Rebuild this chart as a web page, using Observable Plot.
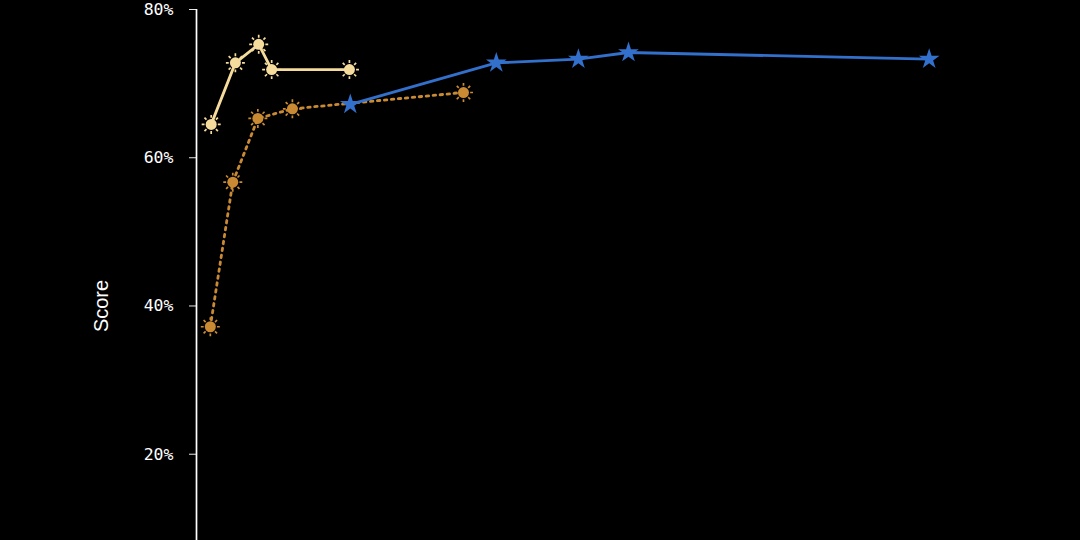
<!DOCTYPE html>
<html>
<head>
<meta charset="utf-8">
<script src="https://cdn.jsdelivr.net/npm/d3@7"></script>
<script src="https://cdn.jsdelivr.net/npm/@observablehq/plot@0.6"></script>
<style>
  html, body { margin: 0; padding: 0; background: #000; }
  #chart { width: 1080px; height: 540px; overflow: hidden; }
</style>
</head>
<body>
<div id="chart"></div>
<script>
// Series A (pale yellow, solid line, sun markers)
const seriesAx = [1.7, 4.5, 7.2, 8.7, 17.7];
const seriesAy = [0.645, 0.728, 0.753, 0.719, 0.719];
// Series B (amber, dotted line, sun markers)
const seriesBx = [1.6, 4.2, 7.1, 11.1, 30.9];
const seriesBy = [0.372, 0.567, 0.653, 0.666, 0.688];
// Series C (blue, solid line, star markers)
const seriesCx = [17.8, 34.7, 44.2, 50.0, 84.8];
const seriesCy = [0.672, 0.728, 0.733, 0.742, 0.733];
const yTicks = [0.2, 0.4, 0.6, 0.8];
const yLabel = "Score";

const toRows = (xs, ys) => xs.map((x, i) => ({x, y: ys[i]}));
const A = toRows(seriesAx, seriesAy);
const B = toRows(seriesBx, seriesBy);
const C = toRows(seriesCx, seriesCy);

const colA = "#f6dc9c", colB = "#c98a33", colC = "#3270cc";

// custom "sun rays" symbol: 8 detached rays around the centre
const rays = {
  draw(ctx, size) {
    const R = Math.sqrt(size / Math.PI);
    for (let i = 0; i < 8; i++) {
      const a = i * Math.PI / 4;
      ctx.moveTo(Math.cos(a) * R * 0.7, Math.sin(a) * R * 0.7);
      ctx.lineTo(Math.cos(a) * R, Math.sin(a) * R);
    }
  }
};

const sunMarks = (data, color) => [
  Plot.dot(data, {x: "x", y: "y", r: 9.5, symbol: rays, stroke: color, strokeWidth: 1.7, fill: "none"}),
  Plot.dot(data, {x: "x", y: "y", r: 5.5, fill: color, stroke: "none"})
];

const chart = Plot.plot({
  width: 1080,
  height: 540,
  marginTop: 9,
  marginBottom: 0,
  marginLeft: 196,
  marginRight: 20,
  style: {background: "#000", color: "#fff", overflow: "visible"},
  x: {domain: [0, 100], axis: null},
  y: {domain: [0.0836, 0.8]},
  marks: [
    Plot.axisY({
      ticks: yTicks,
      tickFormat: d3.format(".0%"),
      tickSize: 7,
      tickPadding: 16,
      fontSize: 16.5,
      fontFamily: "DejaVu Sans Mono",
      stroke: "#fff",
      strokeOpacity: 0.9,
      label: null
    }),
    Plot.text([yLabel], {
      frameAnchor: "left", y: () => 0.4, dx: -95, rotate: -90, fill: "#fff",
      textAnchor: "middle", lineAnchor: "middle",
      fontSize: 20, fontFamily: "Liberation Sans, Arial, sans-serif"
    }),
    Plot.ruleX([0], {stroke: "#fff", strokeWidth: 1.7}),
    Plot.line(B, {x: "x", y: "y", stroke: colB, strokeWidth: 2.8, strokeDasharray: "2.5,4.5"}),
    ...sunMarks(B, colB),
    Plot.line(A, {x: "x", y: "y", stroke: colA, strokeWidth: 2.8}),
    ...sunMarks(A, colA),
    Plot.line(C, {x: "x", y: "y", stroke: colC, strokeWidth: 2.8}),
    Plot.dot(C, {x: "x", y: "y", symbol: "star", r: 6.5, fill: colC, stroke: "none"})
  ]
});
document.getElementById("chart").append(chart);
</script>
</body>
</html>
